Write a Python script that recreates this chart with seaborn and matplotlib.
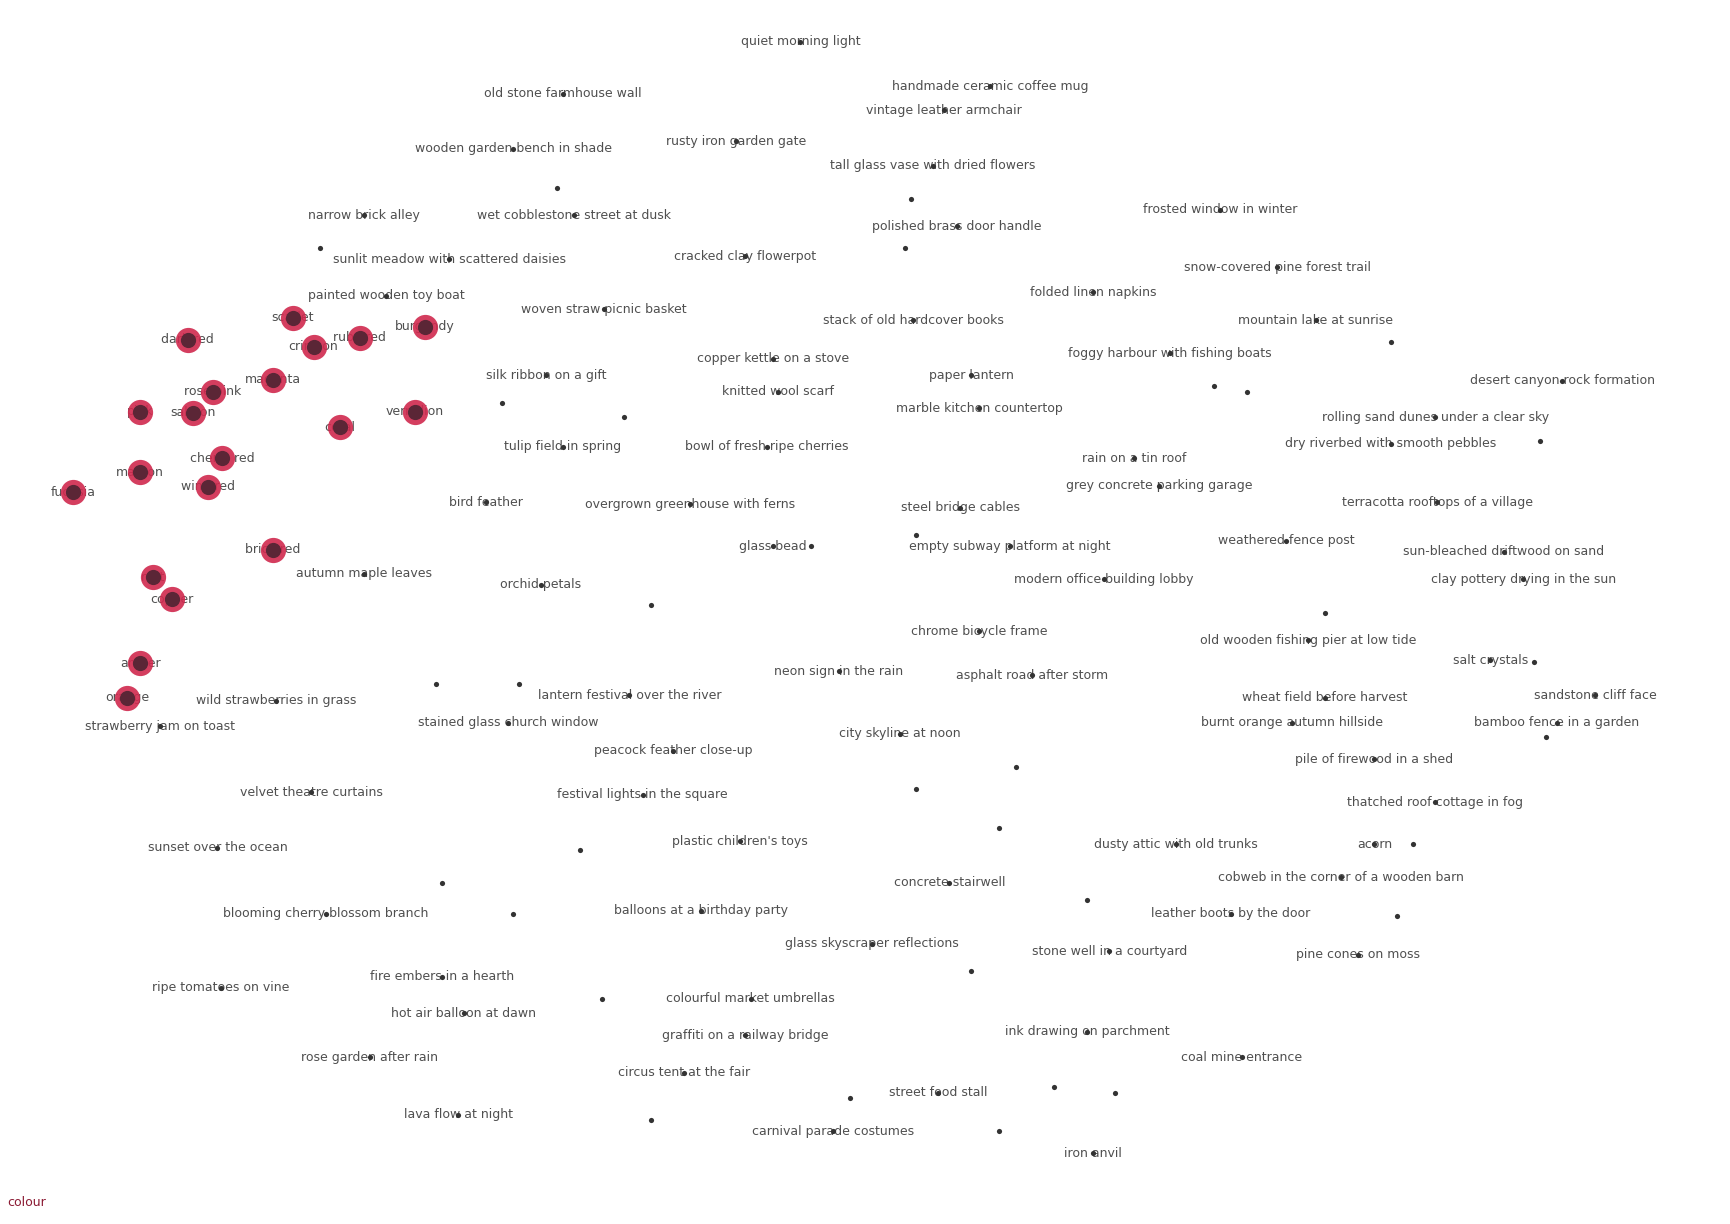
import numpy as np
import pandas as pd
import matplotlib
matplotlib.use("Agg")
import matplotlib.pyplot as plt
import seaborn as sns

# 2-D embedding of image captions; colour terms highlighted
phrases = [
    "quiet morning light", "old stone farmhouse wall", "handmade ceramic coffee mug",
    "vintage leather armchair", "wooden garden bench in shade", "rusty iron garden gate",
    "tall glass vase with dried flowers", "narrow brick alley", "wet cobblestone street at dusk",
    "polished brass door handle", "frosted window in winter", "snow-covered pine forest trail",
    "sunlit meadow with scattered daisies", "cracked clay flowerpot", "folded linen napkins",
    "painted wooden toy boat", "woven straw picnic basket", "stack of old hardcover books",
    "mountain lake at sunrise", "foggy harbour with fishing boats", "copper kettle on a stove",
    "desert canyon rock formation", "silk ribbon on a gift", "paper lantern",
    "knitted wool scarf", "marble kitchen countertop", "rolling sand dunes under a clear sky",
    "dry riverbed with smooth pebbles", "tulip field in spring", "bowl of fresh ripe cherries",
    "rain on a tin roof", "grey concrete parking garage", "overgrown greenhouse with ferns",
    "terracotta rooftops of a village", "bird feather", "steel bridge cables",
    "empty subway platform at night", "weathered fence post", "sun-bleached driftwood on sand",
    "glass bead", "autumn maple leaves", "orchid petals",
    "modern office building lobby", "clay pottery drying in the sun", "chrome bicycle frame",
    "old wooden fishing pier at low tide", "salt crystals", "neon sign in the rain",
    "asphalt road after storm", "sandstone cliff face", "wheat field before harvest",
    "wild strawberries in grass", "lantern festival over the river", "strawberry jam on toast",
    "stained glass church window", "burnt orange autumn hillside", "bamboo fence in a garden",
    "city skyline at noon", "peacock feather close-up", "pile of firewood in a shed",
    "velvet theatre curtains", "festival lights in the square", "thatched roof cottage in fog",
    "sunset over the ocean", "plastic children's toys", "dusty attic with old trunks",
    "acorn", "cobweb in the corner of a wooden barn", "concrete stairwell",
    "blooming cherry blossom branch", "balloons at a birthday party", "leather boots by the door",
    "glass skyscraper reflections", "stone well in a courtyard", "pine cones on moss",
    "ripe tomatoes on vine", "fire embers in a hearth", "colourful market umbrellas",
    "hot air balloon at dawn", "ink drawing on parchment", "graffiti on a railway bridge",
    "rose garden after rain", "coal mine entrance", "circus tent at the fair",
    "street food stall", "lava flow at night", "carnival parade costumes", "iron anvil",
]
phrase_x = [
    72.5, 51.0, 89.7, 85.5, 46.5, 66.7, 84.5, 33.0, 52.0, 86.7, 110.5, 115.7,
    40.7, 67.5, 99.0, 35.0, 54.7, 82.7, 119.2, 106.0, 70.0, 141.5, 49.5, 88.0,
    70.5, 88.7, 130.0, 126.0, 51.0, 69.5, 102.7, 105.0, 62.5, 130.2, 44.0, 87.0,
    91.5, 116.5, 136.2, 70.0, 33.0, 49.0, 100.0, 138.0, 88.7, 118.5, 135.0, 76.0,
    93.5, 144.5, 120.0, 25.0, 57.0, 14.5, 46.0, 117.0, 141.0, 81.5, 61.0, 124.5,
    28.2, 58.2, 130.0, 19.7, 67.0, 106.5, 124.5, 121.5, 86.0, 29.5, 63.5, 111.5,
    79.0, 100.5, 123.0, 20.0, 40.0, 68.0, 42.0, 98.5, 67.5, 33.5, 112.5, 62.0,
    85.0, 41.5, 75.5, 99.0,
]
phrase_y = [
    -3.8, -8.5, -7.8, -10.0, -13.5, -12.8, -15.0, -19.5, -19.5, -20.5, -19.0, -24.2,
    -23.5, -23.2, -26.5, -26.8, -28.0, -29.0, -29.0, -32.0, -32.5, -34.5, -34.0, -34.0,
    -35.5, -37.0, -37.8, -40.2, -40.5, -40.5, -41.5, -44.0, -45.7, -45.5, -45.5, -46.0,
    -49.5, -49.0, -50.0, -49.5, -52.0, -53.0, -52.5, -52.5, -57.2, -58.0, -59.8, -60.8,
    -61.2, -63.0, -63.2, -63.5, -63.0, -65.8, -65.5, -65.5, -65.5, -66.5, -68.0, -68.8,
    -71.8, -72.0, -72.7, -76.8, -76.2, -76.5, -76.5, -79.5, -80.0, -82.8, -82.5, -82.8,
    -85.5, -86.2, -86.5, -89.5, -88.5, -90.5, -91.8, -93.5, -93.8, -95.8, -95.8, -97.2,
    -99.0, -101.0, -102.5, -104.5,
]

colour_terms = [
    "dark red", "scarlet", "crimson", "ruby red", "burgundy", "magenta", "rose pink",
    "pink", "salmon", "coral", "vermilion", "cherry red", "maroon", "wine red",
    "fuchsia", "brick red", "rust", "copper", "amber", "orange",
]
colour_x = [17.0, 26.5, 28.4, 32.6, 38.5, 24.7, 19.3, 12.7, 17.5, 30.8, 37.6, 20.1,
            12.7, 18.8, 6.6, 24.7, 13.9, 15.6, 12.7, 11.5]
colour_y = [-30.8, -28.8, -31.4, -30.6, -29.6, -34.4, -35.5, -37.3, -37.4, -38.7, -37.3,
            -41.5, -42.8, -44.1, -44.6, -49.8, -52.3, -54.3, -60.1, -63.2]

# captions without a printed label
extra_x = [29.0, 50.5, 82.5, 82.0, 56.5, 113.0, 126.0, 139.5, 120.0, 139.0, 140.0, 83.0,
           90.5, 52.5, 40.0, 46.5, 126.5, 88.0, 54.5, 77.0, 95.5, 101.0, 90.5, 59.0,
           92.0, 83.0, 73.5, 59.0, 98.5, 39.5, 47.0, 128.0, 110.0, 45.5]
extra_y = [-22.5, -17.0, -18.0, -22.5, -37.8, -35.5, -31.0, -40.0, -55.5, -60.0, -66.8,
           -71.5, -75.0, -77.0, -80.0, -82.8, -83.0, -88.0, -90.5, -99.5, -98.5, -99.0,
           -102.5, -101.5, -69.5, -48.5, -49.5, -54.8, -81.5, -62.0, -62.0, -76.5, -35.0, -36.5]

df = pd.concat([
    pd.DataFrame({"x": phrase_x, "y": phrase_y, "label": phrases, "group": "other"}),
    pd.DataFrame({"x": extra_x, "y": extra_y, "label": "", "group": "other"}),
    pd.DataFrame({"x": colour_x, "y": colour_y, "label": colour_terms, "group": "colour"}),
], ignore_index=True)

sns.set_theme(style="white")
plt.rcParams["font.family"] = ["DejaVu Sans"]

fig = plt.figure(figsize=(17.31, 12.24), dpi=100)
ax = fig.add_axes([0, 0, 1, 1])

others = df[df["group"] == "other"]
colours = df[df["group"] == "colour"]

# caption labels first, points above them
for _, r in df[df["label"] != ""].iterrows():
    ax.text(r["x"], r["y"], r["label"], fontsize=9, color="#4f4f4f",
            ha="center", va="center", zorder=2)

sns.scatterplot(data=others, x="x", y="y", color="#333333", s=14, linewidth=0,
                legend=False, ax=ax, zorder=3)
# highlighted colour terms: red disc with a dark core
sns.scatterplot(data=colours, x="x", y="y", color="#d0294e", linewidth=0,
                s=330, alpha=0.9, legend=False, ax=ax, zorder=4)
sns.scatterplot(data=colours, x="x", y="y", color="#5b2636", linewidth=0,
                s=120, legend=False, ax=ax, zorder=5)

ax.set_xlim(0, 156.8)
ax.set_ylim(-110.9, 0)
ax.set_axis_off()

fig.text(0.004, 0.012, "colour", color="#8b1a33", fontsize=9, ha="left", va="bottom")

fig.savefig("out.png", dpi=100, facecolor="white")
